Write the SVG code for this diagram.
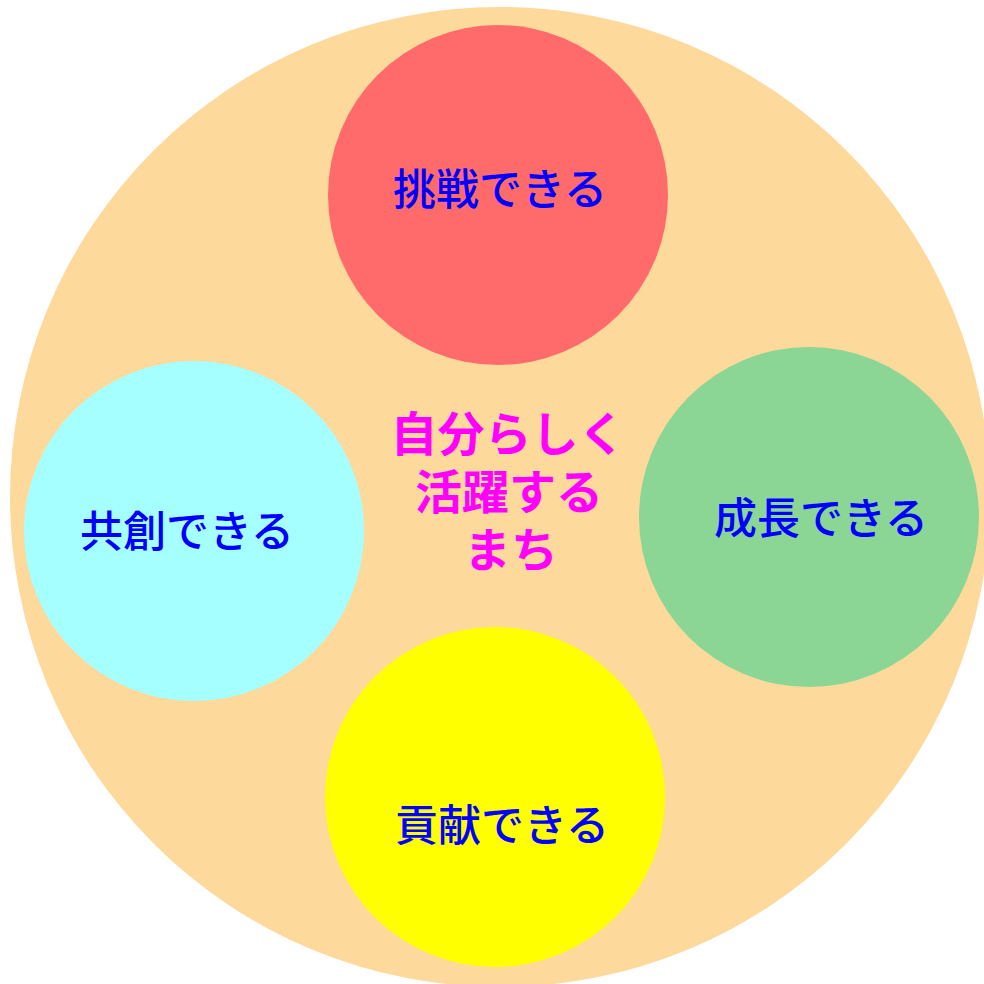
<svg xmlns="http://www.w3.org/2000/svg" width="984" height="984" viewBox="0 0 984 984">
  <style>
    .lbl { font-family: "Noto Sans CJK JP", "Noto Sans", sans-serif; font-size: 43px; font-weight: 500; fill: #0000FF; text-anchor: middle; }
    .ctr { font-family: "Noto Sans CJK JP", "Noto Sans", sans-serif; font-size: 47px; font-weight: bold; fill: #FF00FF; text-anchor: middle; }
  </style>
  <rect width="984" height="984" fill="#FFFFFF"/>
  <g id="base">
    <circle cx="500" cy="497" r="490" fill="#FDD99B"/>
  </g>
  <g id="connectors"></g>
  <g id="node-challenge">
    <circle cx="498" cy="195" r="170" fill="#FF6B6B"/>
    <text class="lbl" x="500" y="205">挑戦できる</text>
  </g>
  <g id="node-growth">
    <circle cx="809" cy="517" r="170" fill="#8BD694"/>
    <text class="lbl" x="821" y="534">成長できる</text>
  </g>
  <g id="node-cocreate">
    <circle cx="194" cy="531" r="170" fill="#A6FFFF"/>
    <text class="lbl" x="187" y="547">共創できる</text>
  </g>
  <g id="node-contribute">
    <circle cx="495" cy="797" r="170" fill="#FFFF00"/>
    <text class="lbl" x="502" y="841">貢献できる</text>
  </g>
  <g id="center">
    <text class="ctr" x="508" y="451">自分らしく</text>
    <text class="ctr" x="509" y="509">活躍する</text>
    <text class="ctr" x="511" y="567">まち</text>
  </g>
</svg>
